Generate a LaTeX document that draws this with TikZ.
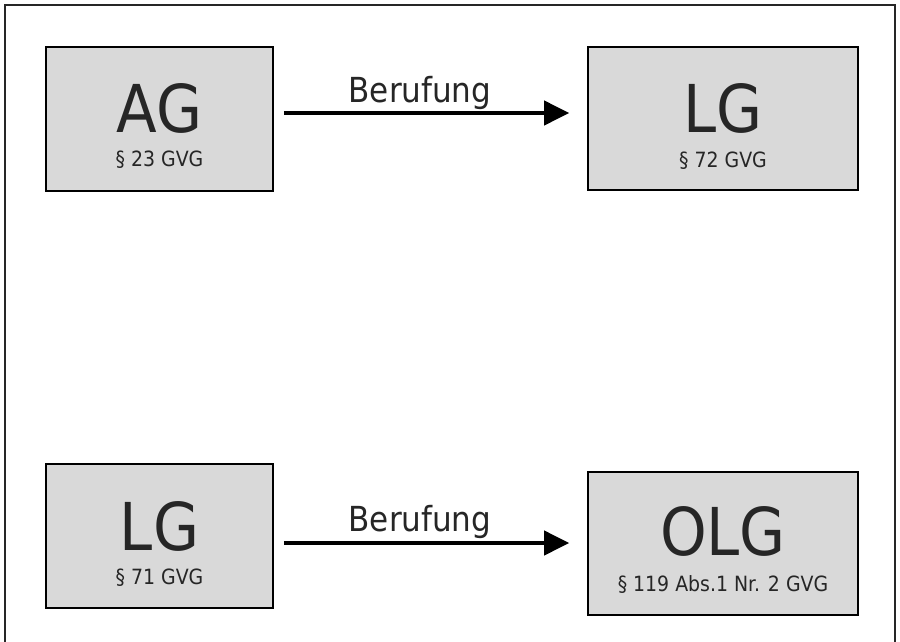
\documentclass[tikz,border=0pt]{standalone}
\usepackage{fontspec}
\setmainfont{DejaVu Sans Condensed}
\usetikzlibrary{arrows.meta}
\definecolor{boxfill}{HTML}{D9D9D9}
\definecolor{txt}{HTML}{262626}
\tikzset{
  court/.style={draw=black, line width=1.6pt, fill=boxfill, minimum width=227pt, minimum height=144pt, inner sep=0pt},
  big/.style={anchor=base, text=txt, font=\fontsize{66}{66}\selectfont, inner sep=0pt},
  small/.style={anchor=base, text=txt, font=\fontsize{21}{21}\selectfont, inner sep=0pt},
  lbl/.style={anchor=base, text=txt, font=\fontsize{34.5}{34.5}\selectfont, inner sep=0pt},
  arr/.style={line width=4pt, -{Triangle[length=25pt,width=24pt]}}
}
\begin{document}
\begin{tikzpicture}[x=1pt,y=-1pt]
\useasboundingbox (0,0) rectangle (900,641);
\begin{scope}
\clip (0,0) rectangle (900,641);
\draw[line width=1.4pt, black!85] (5,5) rectangle (895,680);
\end{scope}
% boxes
\node[court] (ag) at (159.5,119) {};
\node[court, minimum width=270pt, minimum height=143pt] (lg1) at (723,118.5) {};
\node[court] (lg2) at (159.5,536) {};
\node[court, minimum width=270pt, minimum height=143pt] (olg) at (723,543.5) {};
% texts
\node[big] (t1) at (159.5,132) {AG};
\node[small] (s1) at (159.5,166) {§ 23 GVG};
\node[big] (t2) at (723,132) {LG};
\node[small] (s2) at (723,167) {§ 72 GVG};
\node[big] (t3) at (159.5,550) {LG};
\node[small] (s3) at (159.5,584) {§ 71 GVG};
\node[big] (t4) at (723,555) {OLG};
\node[small] (s4) at (723,591) {§ 119 Abs.1 Nr. 2 GVG};
% arrows
\draw[arr] ([xshift=10pt,yshift=6pt]ag.east) -- ([xshift=-18pt,yshift=5.5pt]lg1.west);
\draw[arr] ([xshift=10pt,yshift=-7pt]lg2.east) -- ([xshift=-18pt,yshift=0.5pt]olg.west);
\node[lbl] (b1) at (420,102) {Berufung};
\node[lbl] (b2) at (420,531) {Berufung};
\end{tikzpicture}
\end{document}
